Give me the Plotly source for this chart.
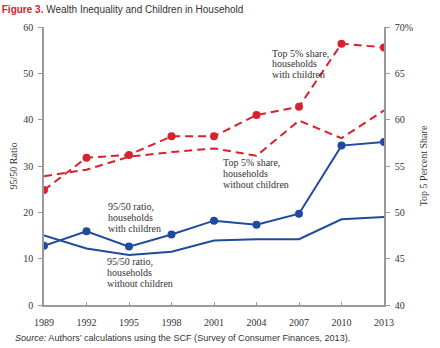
import plotly.graph_objects as go

# Survey years
years = [1989, 1992, 1995, 1998, 2001, 2004, 2007, 2010, 2013]

# 95/50 wealth ratio (left axis)
ratio_with_children = [12.8, 15.9, 12.6, 15.2, 18.2, 17.3, 19.7, 34.4, 35.2]
ratio_without_children = [15.0, 12.2, 10.8, 11.5, 13.9, 14.2, 14.2, 18.5, 19.0]

# Top 5% wealth share, percent (right axis)
share_with_children = [52.4, 55.9, 56.2, 58.2, 58.2, 60.5, 61.4, 68.2, 67.8]
share_without_children = [53.9, 54.6, 56.0, 56.5, 56.9, 56.1, 59.9, 58.0, 61.0]

left_ticks = [0, 10, 20, 30, 40, 50, 60]
right_ticks = [40, 45, 50, 55, 60, 65, 70]
right_tick_text = ["40", "45", "50", "55", "60", "65", "70%"]

RED = "#d9222e"
BLUE = "#1f4a9e"
AXIS = "#9a9a9a"
TEXT = "#333333"
SERIF = "Liberation Serif, DejaVu Serif, serif"
SANS = "Liberation Sans, Arial, sans-serif"

fig = go.Figure()

fig.add_trace(go.Scatter(
    x=years, y=ratio_with_children, mode="lines+markers",
    line=dict(color=BLUE, width=2), marker=dict(size=8, color=BLUE),
    yaxis="y", showlegend=False))
fig.add_trace(go.Scatter(
    x=years, y=ratio_without_children, mode="lines",
    line=dict(color=BLUE, width=2), yaxis="y", showlegend=False))
fig.add_trace(go.Scatter(
    x=years, y=share_with_children, mode="lines+markers",
    line=dict(color=RED, width=2, dash="8px,5px"), marker=dict(size=8, color=RED),
    yaxis="y2", showlegend=False))
fig.add_trace(go.Scatter(
    x=years, y=share_without_children, mode="lines",
    line=dict(color=RED, width=2, dash="8px,5px"),
    yaxis="y2", showlegend=False))

# Series labels: (left edge, centre of first line) in paper coordinates, one entry per line
labels = [
    (["Top 5% share,", "households", "with children"], 0.664, 0.906),
    (["Top 5% share,", "households", "without children"], 0.522, 0.511),
    (["95/50 ratio,", "households", "with children"], 0.182, 0.353),
    (["95/50 ratio,", "households", "without children"], 0.179, 0.155),
]
line_step = 10.6 / 278.0
annotations = []
for lines, x0, y0 in labels:
    for i, line in enumerate(lines):
        annotations.append(dict(
            text=line, xref="paper", yref="paper", x=x0, y=y0 - i * line_step,
            xanchor="left", yanchor="middle", showarrow=False,
            font=dict(family=SERIF, size=10, color=TEXT)))

# Source note under the chart
annotations.append(dict(
    text="<i>Source:</i> Authors\u2019 calculations using the SCF (Survey of Consumer Finances, 2013).",
    xref="paper", yref="paper", x=-33 / 362.0, y=-33 / 278.0,
    xanchor="left", yanchor="middle", showarrow=False,
    font=dict(family=SANS, size=9.1, color=TEXT)))

fig.update_layout(
    width=440, height=348,
    margin=dict(l=33, r=45, t=27, b=43),
    paper_bgcolor="white", plot_bgcolor="white",
    title=dict(
        text="<b><span style='color:#d9222e'>Figure 3.</span></b> Wealth Inequality and Children in Household",
        x=0.004, xanchor="left", xref="container",
        y=1 - 9 / 348.0, yanchor="middle", yref="container",
        font=dict(family=SANS, size=10, color=TEXT)),
    xaxis=dict(
        range=[1989, 2013], tickvals=years, showgrid=False, zeroline=False,
        showline=True, linecolor=AXIS, linewidth=1.5,
        ticks="inside", ticklen=3, tickcolor=AXIS, ticklabelstandoff=7,
        tickfont=dict(family=SERIF, size=10, color=TEXT)),
    yaxis=dict(
        range=[0, 60], tickvals=left_ticks, showgrid=False, zeroline=False,
        showline=True, linecolor=AXIS, linewidth=1.5,
        ticks="outside", ticklen=4, tickcolor=AXIS, ticklabelstandoff=3,
        tickfont=dict(family=SERIF, size=10, color=TEXT),
        title=dict(text="95/50 Ratio", standoff=4,
                   font=dict(family=SERIF, size=10, color=TEXT))),
    yaxis2=dict(
        range=[40, 70], tickvals=right_ticks, ticktext=right_tick_text,
        overlaying="y", side="right", showgrid=False, zeroline=False,
        showline=True, linecolor=AXIS, linewidth=1.5,
        ticks="outside", ticklen=4, tickcolor=AXIS, ticklabelstandoff=3,
        tickfont=dict(family=SERIF, size=10, color=TEXT),
        title=dict(text="Top 5 Percent Share", standoff=8,
                   font=dict(family=SERIF, size=10, color=TEXT))),
    annotations=annotations,
)

fig.write_html("out.html")
